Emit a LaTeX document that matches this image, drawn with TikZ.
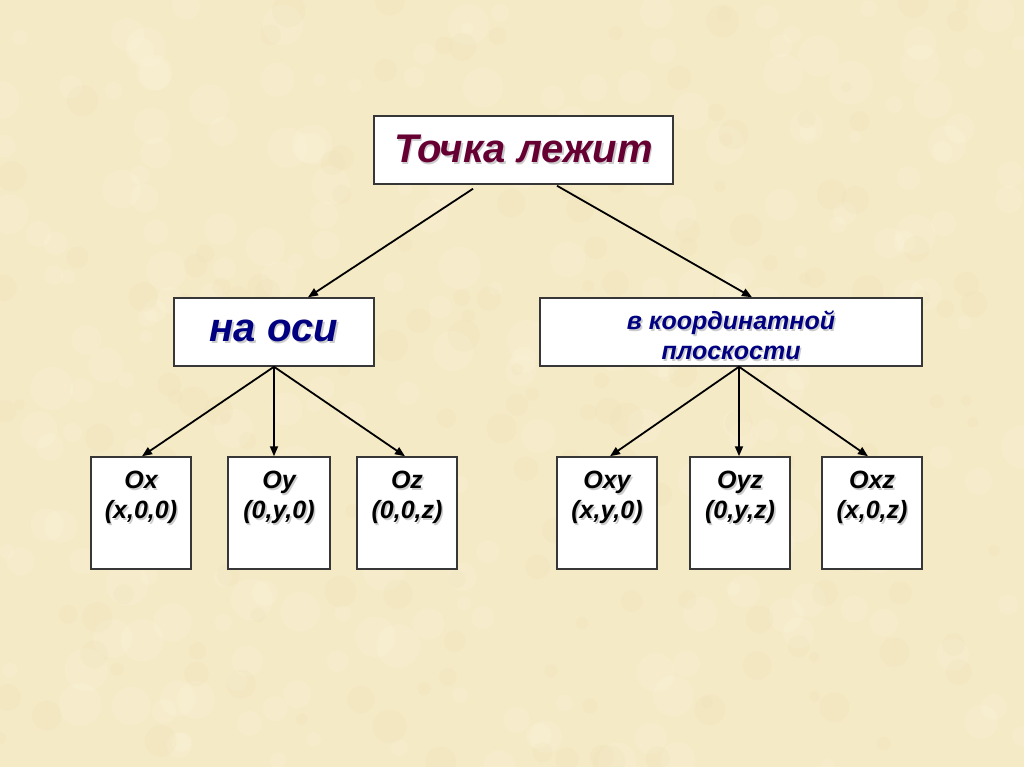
\documentclass[tikz,border=0pt]{standalone}
\usepackage{fontspec}
\setmainfont{Liberation Sans}
\usetikzlibrary{arrows.meta}
\definecolor{bg}{RGB}{245,234,198}
\definecolor{bglight}{RGB}{251,244,220}
\definecolor{bgdark}{RGB}{237,223,180}
\definecolor{maroon}{RGB}{102,0,51}
\definecolor{navyblue}{RGB}{0,0,128}
\definecolor{frame}{RGB}{55,55,55}
\newcommand\shd[1]{\makebox[0pt][l]{\hspace{1.6pt}\raisebox{-1.6pt}{\textcolor{black!20}{#1}}}#1}
\begin{document}
\begin{tikzpicture}[x=1pt,y=-1pt,
  box/.style={draw=frame,line width=1.5pt,fill=white,inner sep=0pt},
  leaf/.style={box,minimum width=100pt,minimum height=112pt},
  ltxt/.style={anchor=north,inner sep=0pt,align=center,font=\bfseries\itshape\fontsize{25}{30}\selectfont},
  arr/.style={-{Triangle[length=10pt,width=8pt]},line width=1.8pt,black}]
\useasboundingbox (0,0) rectangle (1024,767);
\begin{scope}
\clip (0,0) rectangle (1024,767);
\fill[bg] (0,0) rectangle (1024,767);
\pgfmathsetseed{7}
\foreach \i in {1,...,260}{
  \pgfmathsetmacro\px{rnd*1024}\pgfmathsetmacro\py{rnd*767}\pgfmathsetmacro\pr{6+rnd*16}
  \fill[bglight,opacity=0.25] (\px,\py) circle[radius=\pr];
}
\foreach \i in {1,...,160}{
  \pgfmathsetmacro\px{rnd*1024}\pgfmathsetmacro\py{rnd*767}\pgfmathsetmacro\pr{5+rnd*12}
  \fill[bgdark,opacity=0.2] (\px,\py) circle[radius=\pr];
}
\end{scope}
% top box
\node[box,minimum width=299pt,minimum height=68pt,text=maroon,
  font=\bfseries\itshape\fontsize{40}{48}\selectfont] (top) at (523.5,150) {\shd{Точка лежит}};
% second level
\node[box,minimum width=200pt,minimum height=68pt,text=navyblue,
  font=\bfseries\itshape\fontsize{40}{48}\selectfont] (axis) at (274,332) {\shd{на оси}};
\node[box,minimum width=382pt,minimum height=68pt] (plane) at (731,332) {};
\node[text=navyblue,align=center,inner sep=0pt,
  font=\bfseries\itshape\fontsize{25}{30}\selectfont] (tplane) at (731,336) {\shd{в координатной}\\\shd{плоскости}};
% leaves
\node[leaf] (ox) at (141,513) {};
\node[leaf,minimum width=102pt] (oy) at (279,513) {};
\node[leaf] (oz) at (407,513) {};
\node[leaf] (oxy) at (607,513) {};
\node[leaf] (oyz) at (740,513) {};
\node[leaf] (oxz) at (872,513) {};
\node[ltxt] (tox) at ([yshift=-15pt]ox.north) {\shd{Ox}\\\shd{(x,0,0)}};
\node[ltxt] (toy) at ([yshift=-15pt]oy.north) {\shd{Oy}\\\shd{(0,y,0)}};
\node[ltxt] (toz) at ([yshift=-15pt]oz.north) {\shd{Oz}\\\shd{(0,0,z)}};
\node[ltxt] (toxy) at ([yshift=-15pt]oxy.north) {\shd{Oxy}\\\shd{(x,y,0)}};
\node[ltxt] (toyz) at ([yshift=-15pt]oyz.north) {\shd{Oyz}\\\shd{(0,y,z)}};
\node[ltxt] (toxz) at ([yshift=-15pt]oxz.north) {\shd{Oxz}\\\shd{(x,0,z)}};
% connectors
\draw[arr] ([xshift=-50.5pt,yshift=-4pt]top.south) -- ([xshift=34pt]axis.north);
\draw[arr] ([xshift=33.5pt,yshift=-1pt]top.south) -- ([xshift=21pt]plane.north);
\draw[arr] (axis.south) -- ([xshift=1pt]ox.north);
\draw[arr] (axis.south) -- ([xshift=-5pt]oy.north);
\draw[arr] (axis.south) -- ([xshift=-2pt]oz.north);
\draw[arr] ([xshift=8pt]plane.south) -- ([xshift=3pt]oxy.north);
\draw[arr] ([xshift=8pt]plane.south) -- ([xshift=-1pt]oyz.north);
\draw[arr] ([xshift=8pt]plane.south) -- ([xshift=-4pt]oxz.north);
\end{tikzpicture}
\end{document}
